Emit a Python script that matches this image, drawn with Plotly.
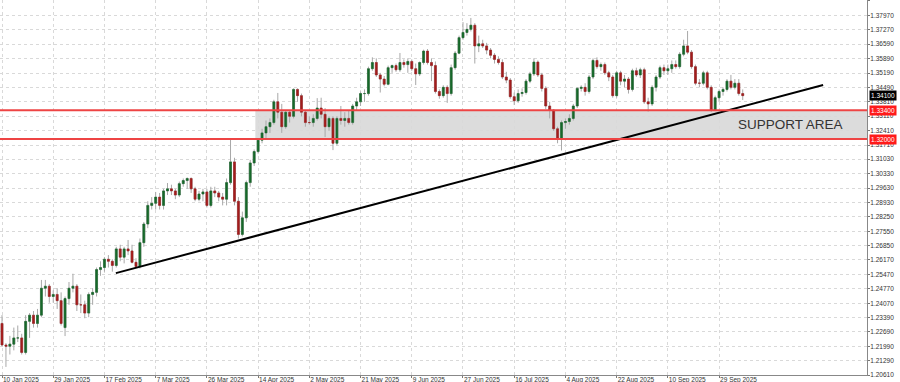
import plotly.graph_objects as go

# ---------------- data ----------------
x_tick_labels = ["10 Jan 2025", "29 Jan 2025", "17 Feb 2025", "7 Mar 2025", "26 Mar 2025",
                 "14 Apr 2025", "2 May 2025", "21 May 2025", "9 Jun 2025", "27 Jun 2025",
                 "16 Jul 2025", "4 Aug 2025", "22 Aug 2025", "10 Sep 2025", "29 Sep 2025"]
x_tick_bars = [0, 13, 26, 39, 52, 65, 78, 91, 104, 117, 130, 143, 156, 169, 182]

y_tick_labels = ["1.38670", "1.37970", "1.37270", "1.36590", "1.35890", "1.35190", "1.34490",
                 "1.33810", "1.33110", "1.32410", "1.31710", "1.31030", "1.30330", "1.29630",
                 "1.28930", "1.28250", "1.27550", "1.26850", "1.26170", "1.25470", "1.24770",
                 "1.24070", "1.23390", "1.22690", "1.21990", "1.21290", "1.20610"]

opens = [1.2310, 1.2206, 1.2200, 1.2210, 1.2240, 1.2240, 1.2170, 1.2320, 1.2350, 1.2310,
         1.2350, 1.2480, 1.2490, 1.2440, 1.2450, 1.2420, 1.2290, 1.2430, 1.2480, 1.2490,
         1.2400, 1.2400, 1.2360, 1.2450, 1.2460, 1.2570, 1.2580, 1.2620, 1.2610, 1.2590,
         1.2670, 1.2630, 1.2670, 1.2660, 1.2605, 1.2585, 1.2700, 1.2790, 1.2880, 1.2890,
         1.2920, 1.2880, 1.2950, 1.2960, 1.2950, 1.2930, 1.2985, 1.3000, 1.3010, 1.2960,
         1.2910, 1.2935, 1.2945, 1.2880, 1.2950, 1.2940, 1.2920, 1.2910, 1.2990, 1.3090,
         1.2900, 1.2740, 1.2820, 1.2990, 1.3085, 1.3140, 1.3195, 1.3230, 1.3260, 1.3280,
         1.3380, 1.3330, 1.3260, 1.3330, 1.3310, 1.3440, 1.3410, 1.3330, 1.3280, 1.3280,
         1.3300, 1.3350, 1.3320, 1.3260, 1.3300, 1.3180, 1.3300, 1.3290, 1.3300, 1.3280,
         1.3360, 1.3380, 1.3420, 1.3420, 1.3540, 1.3570, 1.3510, 1.3490, 1.3465, 1.3545,
         1.3555, 1.3535, 1.3570, 1.3560, 1.3575, 1.3540, 1.3515, 1.3570, 1.3625, 1.3570,
         1.3555, 1.3430, 1.3410, 1.3450, 1.3420, 1.3545, 1.3615, 1.3690, 1.3715, 1.3730,
         1.3750, 1.3650, 1.3660, 1.3650, 1.3630, 1.3605, 1.3585, 1.3570, 1.3500, 1.3485,
         1.3405, 1.3385, 1.3420, 1.3425, 1.3480, 1.3515, 1.3572, 1.3510, 1.3445, 1.3360,
         1.3340, 1.3250, 1.3200, 1.3280, 1.3285, 1.3300, 1.3360, 1.3445, 1.3450, 1.3430,
         1.3500, 1.3580, 1.3550, 1.3560, 1.3520, 1.3500, 1.3410, 1.3520, 1.3480, 1.3490,
         1.3440, 1.3530, 1.3510, 1.3535, 1.3380, 1.3370, 1.3450, 1.3500, 1.3545, 1.3530,
         1.3540, 1.3560, 1.3550, 1.3610, 1.3650, 1.3620, 1.3550, 1.3470, 1.3470, 1.3520,
         1.3450, 1.3340, 1.3400, 1.3430, 1.3440, 1.3480, 1.3450, 1.3470, 1.3420]
highs = [1.2350, 1.2215, 1.2250, 1.2290, 1.2300, 1.2260, 1.2350, 1.2360, 1.2370, 1.2380,
         1.2520, 1.2520, 1.2500, 1.2470, 1.2480, 1.2460, 1.2440, 1.2510, 1.2550, 1.2500,
         1.2450, 1.2420, 1.2460, 1.2480, 1.2580, 1.2610, 1.2630, 1.2640, 1.2620, 1.2680,
         1.2690, 1.2680, 1.2713, 1.2690, 1.2625, 1.2720, 1.2800, 1.2900, 1.2920, 1.2945,
         1.2940, 1.2960, 1.2988, 1.2980, 1.2960, 1.2995, 1.3010, 1.3015, 1.3015, 1.2970,
         1.2950, 1.2960, 1.2960, 1.2970, 1.2970, 1.2950, 1.2940, 1.3010, 1.3200, 1.3110,
         1.2920, 1.2850, 1.3000, 1.3100, 1.3150, 1.3205, 1.3250, 1.3290, 1.3300, 1.3390,
         1.3423, 1.3370, 1.3340, 1.3340, 1.3445, 1.3445, 1.3420, 1.3340, 1.3310, 1.3320,
         1.3398, 1.3400, 1.3350, 1.3310, 1.3310, 1.3310, 1.3360, 1.3330, 1.3340, 1.3370,
         1.3400, 1.3430, 1.3440, 1.3550, 1.3595, 1.3590, 1.3520, 1.3505, 1.3555, 1.3560,
         1.3565, 1.3616, 1.3585, 1.3590, 1.3585, 1.3565, 1.3575, 1.3632, 1.3635, 1.3590,
         1.3575, 1.3440, 1.3460, 1.3460, 1.3560, 1.3625, 1.3700, 1.3765, 1.3760, 1.3785,
         1.3760, 1.3700, 1.3680, 1.3665, 1.3640, 1.3615, 1.3600, 1.3585, 1.3525, 1.3495,
         1.3425, 1.3440, 1.3445, 1.3490, 1.3525, 1.3590, 1.3580, 1.3520, 1.3455, 1.3380,
         1.3345, 1.3260, 1.3290, 1.3300, 1.3320, 1.3370, 1.3450, 1.3460, 1.3470, 1.3510,
         1.3590, 1.3595, 1.3570, 1.3570, 1.3530, 1.3510, 1.3530, 1.3530, 1.3510, 1.3500,
         1.3540, 1.3545, 1.3545, 1.3545, 1.3400, 1.3460, 1.3510, 1.3555, 1.3560, 1.3560,
         1.3580, 1.3580, 1.3620, 1.3680, 1.3722, 1.3630, 1.3560, 1.3490, 1.3530, 1.3530,
         1.3460, 1.3410, 1.3440, 1.3450, 1.3490, 1.3510, 1.3490, 1.3490, 1.3440]
lows = [1.2200, 1.2100, 1.2160, 1.2180, 1.2220, 1.2160, 1.2160, 1.2240, 1.2290, 1.2290,
        1.2340, 1.2440, 1.2410, 1.2410, 1.2380, 1.2300, 1.2249, 1.2400, 1.2460, 1.2370,
        1.2360, 1.2335, 1.2340, 1.2400, 1.2440, 1.2540, 1.2560, 1.2580, 1.2560, 1.2580,
        1.2610, 1.2600, 1.2640, 1.2600, 1.2577, 1.2575, 1.2680, 1.2770, 1.2860, 1.2860,
        1.2860, 1.2860, 1.2930, 1.2930, 1.2910, 1.2920, 1.2970, 1.2960, 1.2940, 1.2900,
        1.2900, 1.2900, 1.2870, 1.2870, 1.2920, 1.2900, 1.2880, 1.2880, 1.2980, 1.2880,
        1.2720, 1.2730, 1.2800, 1.2970, 1.3070, 1.3130, 1.3180, 1.3200, 1.3230, 1.3270,
        1.3300, 1.3230, 1.3250, 1.3280, 1.3300, 1.3380, 1.3310, 1.3260, 1.3270, 1.3260,
        1.3290, 1.3300, 1.3210, 1.3240, 1.3147, 1.3170, 1.3270, 1.3260, 1.3270, 1.3270,
        1.3340, 1.3360, 1.3380, 1.3410, 1.3530, 1.3500, 1.3425, 1.3455, 1.3460, 1.3520,
        1.3525, 1.3525, 1.3545, 1.3520, 1.3530, 1.3461, 1.3505, 1.3560, 1.3560, 1.3480,
        1.3420, 1.3395, 1.3400, 1.3375, 1.3410, 1.3535, 1.3610, 1.3680, 1.3700, 1.3720,
        1.3565, 1.3620, 1.3640, 1.3610, 1.3590, 1.3565, 1.3560, 1.3490, 1.3470, 1.3395,
        1.3365, 1.3375, 1.3405, 1.3415, 1.3470, 1.3505, 1.3500, 1.3430, 1.3345, 1.3300,
        1.3240, 1.3180, 1.3145, 1.3250, 1.3270, 1.3290, 1.3350, 1.3430, 1.3410, 1.3420,
        1.3490, 1.3540, 1.3530, 1.3510, 1.3480, 1.3400, 1.3400, 1.3460, 1.3450, 1.3420,
        1.3430, 1.3500, 1.3495, 1.3370, 1.3333, 1.3360, 1.3430, 1.3490, 1.3510, 1.3510,
        1.3520, 1.3540, 1.3540, 1.3600, 1.3610, 1.3540, 1.3460, 1.3450, 1.3460, 1.3440,
        1.3331, 1.3335, 1.3380, 1.3410, 1.3430, 1.3440, 1.3440, 1.3410, 1.3389]
closes = [1.2206, 1.2200, 1.2210, 1.2240, 1.2240, 1.2170, 1.2320, 1.2350, 1.2310, 1.2350,
          1.2480, 1.2490, 1.2440, 1.2450, 1.2420, 1.2310, 1.2430, 1.2480, 1.2490, 1.2400,
          1.2400, 1.2360, 1.2450, 1.2460, 1.2570, 1.2580, 1.2620, 1.2610, 1.2590, 1.2670,
          1.2630, 1.2670, 1.2660, 1.2605, 1.2585, 1.2700, 1.2790, 1.2880, 1.2890, 1.2920,
          1.2880, 1.2950, 1.2960, 1.2950, 1.2930, 1.2985, 1.3000, 1.3010, 1.2960, 1.2910,
          1.2935, 1.2945, 1.2880, 1.2950, 1.2940, 1.2920, 1.2910, 1.2990, 1.3090, 1.2900,
          1.2740, 1.2820, 1.2990, 1.3085, 1.3140, 1.3195, 1.3230, 1.3260, 1.3280, 1.3380,
          1.3330, 1.3260, 1.3330, 1.3310, 1.3440, 1.3410, 1.3330, 1.3280, 1.3280, 1.3300,
          1.3350, 1.3320, 1.3260, 1.3300, 1.3180, 1.3300, 1.3290, 1.3300, 1.3280, 1.3360,
          1.3380, 1.3420, 1.3420, 1.3540, 1.3570, 1.3510, 1.3490, 1.3465, 1.3545, 1.3555,
          1.3535, 1.3570, 1.3560, 1.3575, 1.3540, 1.3515, 1.3570, 1.3625, 1.3570, 1.3555,
          1.3430, 1.3410, 1.3450, 1.3420, 1.3545, 1.3615, 1.3690, 1.3715, 1.3730, 1.3750,
          1.3650, 1.3660, 1.3650, 1.3630, 1.3605, 1.3585, 1.3570, 1.3500, 1.3485, 1.3405,
          1.3385, 1.3420, 1.3425, 1.3480, 1.3515, 1.3572, 1.3510, 1.3445, 1.3360, 1.3340,
          1.3250, 1.3200, 1.3280, 1.3285, 1.3300, 1.3360, 1.3445, 1.3450, 1.3430, 1.3500,
          1.3580, 1.3550, 1.3560, 1.3520, 1.3500, 1.3410, 1.3520, 1.3480, 1.3490, 1.3440,
          1.3530, 1.3510, 1.3535, 1.3380, 1.3370, 1.3450, 1.3500, 1.3545, 1.3530, 1.3540,
          1.3560, 1.3550, 1.3610, 1.3650, 1.3620, 1.3550, 1.3470, 1.3470, 1.3520, 1.3450,
          1.3340, 1.3400, 1.3430, 1.3440, 1.3480, 1.3450, 1.3470, 1.3420, 1.3410]

support_upper = 1.3340
support_lower = 1.3200
support_start_bar = 64.3
support_text = "SUPPORT AREA"
trend_bars = [28.9, 208.4]
trend_prices = [1.2553, 1.3461]

# ---------------- styling ----------------
WICK = "#a8a8a8"
GREEN = "#17692a"
RED = "#a31d1d"
GRID = "#d9d9d9"
FONT = "Liberation Sans"
X_MIN, X_MAX = -0.51, 219.54
Y_MIN, Y_MAX = 1.20610, 1.38718

bars = list(range(len(closes)))
body_hi = [max(o, c) for o, c in zip(opens, closes)]
body_lo = [min(o, c) for o, c in zip(opens, closes)]

fig = go.Figure()
fig.add_trace(go.Candlestick(
    x=bars, open=opens, high=highs, low=lows, close=closes,
    increasing=dict(line=dict(color=WICK, width=1), fillcolor=WICK),
    decreasing=dict(line=dict(color=WICK, width=1), fillcolor=WICK),
    whiskerwidth=0, hoverinfo="skip", showlegend=False))
fig.add_trace(go.Candlestick(
    x=bars, open=opens, high=body_hi, low=body_lo, close=closes,
    increasing=dict(line=dict(color=GREEN, width=0.5), fillcolor=GREEN),
    decreasing=dict(line=dict(color=RED, width=0.5), fillcolor=RED),
    whiskerwidth=0, hoverinfo="skip", showlegend=False))
fig.add_trace(go.Scatter(
    x=trend_bars, y=trend_prices, mode="lines",
    line=dict(color="black", width=2), hoverinfo="skip", showlegend=False))

shapes = [
    dict(type="rect", xref="x", yref="y", x0=support_start_bar, x1=X_MAX,
         y0=support_lower, y1=support_upper, fillcolor="#dcdcdc",
         line=dict(width=0), layer="below"),
    dict(type="line", xref="paper", yref="y", x0=0, x1=1,
         y0=support_upper, y1=support_upper, line=dict(color="#ee4444", width=2)),
    dict(type="line", xref="paper", yref="y", x0=0, x1=1,
         y0=support_lower, y1=support_lower, line=dict(color="#ee4444", width=2)),
]

annotations = [
    dict(x=200, y=(support_upper + support_lower) / 2, xref="x", yref="y",
         text=support_text, showarrow=False,
         font=dict(family=FONT, size=13.5, color="#333333")),
]
for val, bg in [(closes[-1], "#000000"), (support_upper, "#ff1a1a"), (support_lower, "#ff1a1a")]:
    annotations.append(dict(
        x=1, y=val, xref="paper", yref="y", xanchor="left", yanchor="middle",
        xshift=2, text=f"{val:.5f}", showarrow=False, bgcolor=bg, borderpad=1,
        font=dict(family=FONT, size=6.5, color="white")))

fig.update_layout(
    width=900, height=382,
    margin=dict(l=0, r=33, t=0, b=7, autoexpand=False),
    paper_bgcolor="white", plot_bgcolor="white",
    boxmode="overlay", boxgap=0.3,
    shapes=shapes, annotations=annotations,
    font=dict(family=FONT, size=7, color="#333333"),
)
fig.update_xaxes(
    range=[X_MIN, X_MAX], tickvals=x_tick_bars, ticktext=x_tick_labels,
    ticklabelposition="outside right", ticks="outside", ticklen=2, tickcolor="#777",
    ticklabelstandoff=-2,
    tickfont=dict(family=FONT, size=6.5, color="#333"), automargin=False,
    showgrid=True, gridcolor=GRID, griddash="dot", gridwidth=1,
    showline=True, linecolor="#888", linewidth=1, zeroline=False,
    rangeslider=dict(visible=False), fixedrange=True)
fig.update_yaxes(
    side="right", range=[Y_MIN, Y_MAX],
    tickvals=[float(v) for v in y_tick_labels], ticktext=y_tick_labels,
    ticks="outside", ticklen=2, tickcolor="#777", ticklabelstandoff=-1,
    tickfont=dict(family=FONT, size=6.5, color="#333"), automargin=False,
    showgrid=True, gridcolor=GRID, griddash="dot", gridwidth=1,
    showline=True, linecolor="#888", linewidth=1, zeroline=False, fixedrange=True)

fig.write_html("out.html", config={"displayModeBar": False},
               post_script="document.body.style.margin='0';")
